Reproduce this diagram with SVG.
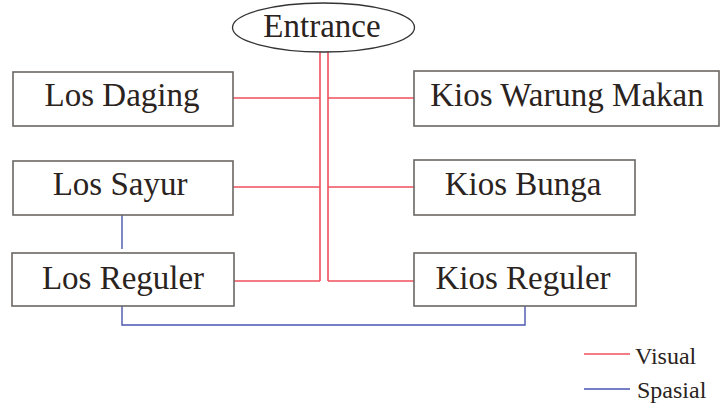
<svg xmlns="http://www.w3.org/2000/svg" width="721" height="408" viewBox="0 0 721 408">
  <style>
    .box { fill: #ffffff; stroke: #6b6663; stroke-width: 1.6; }
    .lbl { font-family: "Liberation Serif", "Times New Roman", serif; font-size: 33px; fill: #2a2320; text-anchor: middle; }
    .leg { font-family: "Liberation Serif", "Times New Roman", serif; font-size: 24px; fill: #2a2320; }
    .vis { fill: none; stroke: #f0505c; stroke-width: 1.6; }
    .spa { fill: none; stroke: #4a55b0; stroke-width: 1.4; }
  </style>
  <rect width="721" height="408" fill="#ffffff"/>

  <!-- connectors -->
  <g id="connectors">
    <!-- visual links: double trunk from the entrance -->
    <path class="vis" d="M320 52 V281 M328 52 V281"/>
    <path class="vis" d="M233 98 H320 M233 187 H320 M234 281 H320"/>
    <path class="vis" d="M328 98 H414 M328 187 H414 M328 281 H414"/>
    <!-- spatial links -->
    <path class="spa" d="M122 215 V249"/>
    <path class="spa" d="M122 306 V325 H525 V306"/>
  </g>

  <g id="entrance">
    <ellipse cx="323.5" cy="27.5" rx="91" ry="24.5" fill="#ffffff" stroke="#333333" stroke-width="1.3"/>
    <text class="lbl" x="322" y="37">Entrance</text>
  </g>

  <g id="los-daging">
    <rect class="box" x="13" y="72" width="220" height="54"/>
    <text class="lbl" x="122" y="106">Los Daging</text>
  </g>
  <g id="los-sayur">
    <rect class="box" x="13" y="161" width="220" height="54"/>
    <text class="lbl" x="120" y="195">Los Sayur</text>
  </g>
  <g id="los-reguler">
    <rect class="box" x="12" y="253" width="222" height="53"/>
    <text class="lbl" x="123" y="289">Los Reguler</text>
  </g>

  <g id="kios-warung-makan">
    <rect class="box" x="414" y="71" width="305" height="55"/>
    <text class="lbl" x="567" y="106">Kios Warung Makan</text>
  </g>
  <g id="kios-bunga">
    <rect class="box" x="414" y="160" width="221" height="55"/>
    <text class="lbl" x="523" y="195">Kios Bunga</text>
  </g>
  <g id="kios-reguler">
    <rect class="box" x="414" y="253" width="222" height="53"/>
    <text class="lbl" x="523" y="289">Kios Reguler</text>
  </g>

  <!-- legend -->
  <g id="legend">
    <line class="vis" x1="584" y1="354" x2="630" y2="354"/>
    <text class="leg" x="635" y="364">Visual</text>
    <line class="spa" x1="584" y1="389" x2="630" y2="389"/>
    <text class="leg" x="637" y="398">Spasial</text>
  </g>
</svg>
